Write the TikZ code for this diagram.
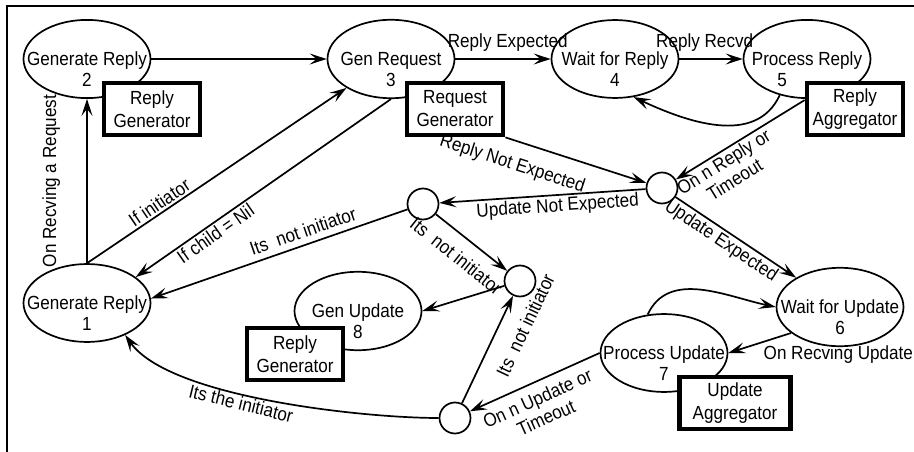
\documentclass[tikz,border=0pt]{standalone}
\usepackage{fontspec}
\setmainfont{Liberation Sans}[FakeStretch=0.9]
\usetikzlibrary{arrows.meta,shapes.geometric}

\begin{document}
\begin{tikzpicture}[
                state/.style={
                    ellipse,
                    draw,
                    line width=1.7pt,
                    minimum width=127pt,
                    minimum height=75pt,
                    inner sep=0pt,
                    align=center
                },
                junction/.style={
                    circle,
                    draw,
                    line width=1.7pt,
                    minimum size=31pt,
                    inner sep=0pt
                },
                agent/.style={
                    draw,
                    fill=white,
                    line width=4.8pt,
                    minimum width=96pt,
                    minimum height=52pt,
                    inner sep=0pt,
                    align=center,
                    font=\fontsize{19}{23}\selectfont
                },
                arr/.style={
                    -{Stealth[length=17pt,width=11pt,inset=7pt]},
                    line width=1.7pt
                },
                lbl/.style={
                    inner sep=2pt,
                    sloped
                },
                font=\fontsize{19}{21}\selectfont,
                x=1pt,
                y=1pt
            ]

        \newcommand{\statetext}[2]{%
            \vphantom{#2}\\\makebox[0pt]{#1}\\#2%
        }

        \useasboundingbox (0,0) rectangle (914,-452);

        % Frame
        \draw[line width=1.6pt] (7,-452) -- (7,-6) -- (914,-6);

        % States
        \node[state] (gen2) at (87,-59) {\statetext{Generate Reply}{2}};
        \node[state] (genreq) at (391,-59) {\statetext{Gen Request}{3}};
        \node[state] (waitrep) at (615,-59) {\statetext{Wait for Reply}{4}};
        \node[state] (procrep) at (807,-59)
            {\statetext{Process Reply}{\makebox[0pt][r]{5\hspace{20pt}}}};
        \node[state] (gen1) at (87,-303) {\statetext{Generate Reply}{1}};
        \node[state] (waitupd) at (840,-307) {\statetext{Wait for Update}{6}};
        \node[state] (procupd) at (664,-353) {\statetext{Process Update}{7}};
        \node[state] (genupd) at (358,-311) {\statetext{Gen Update}{8}};

        % Workers
        \node[agent] (replygen2) at (152,-109) {Reply\\Generator};
        \node[agent] (reqgen) at (455,-109) {Request\\Generator};
        \node[agent] (replyagg) at (855,-109) {Reply\\Aggregator};
        \node[agent] (replygen8) at (295,-354) {Reply\\Generator};
        \node[agent, minimum width=111pt] (updagg) at (735,-403) {Update\\Aggregator};

        % Junctions
        \node[junction] (jrep) at (662,-188) {};
        \node[junction] (jnot) at (423,-204) {};
        \node[junction] (jupd) at (520,-281) {};
        \node[junction] (jtime) at (455,-418) {};

        % Reply round
        \draw[arr] (gen2) -- (genreq);
        \draw[arr] (genreq) -- node[lbl,above=5pt,pos=0.55] {Reply Expected} (waitrep);
        \draw[arr] (waitrep) -- node[lbl,above=5pt,pos=0.4] {Reply Recvd} (procrep);
        \draw[arr] (procrep.-127) to[out=-115,in=-25] (waitrep.-64);
        \draw[arr] (replyagg.170) -- node[lbl,below,pos=0.67,align=center]
            {On n Reply or\\Timeout} (jrep);
        \draw[arr] (reqgen.south east) -- node[lbl,below=12pt,pos=0.1]
            {Reply Not Expected} (jrep);
        \draw[arr] (jrep) -- node[lbl,below,pos=0.43] {Update Not Expected} (jnot);
        \draw[arr] (jrep) -- node[lbl,below,pos=0.43] {Update Expected} (waitupd);

        % Update round
        \draw[arr] (procupd.113) to[out=65,in=168] (waitupd.west);
        \draw[arr] (waitupd.-152) -- node[pos=0.45,anchor=west,yshift=-13pt,inner sep=0pt]
            {On Recving Update} (procupd.east);
        \draw[arr] (procupd.west) -- node[lbl,below=6pt,pos=0.53,align=center]
            {On n Update or\\Timeout} (jtime);
        \draw[arr] (jtime) -- node[lbl,below=14pt,pos=0.82] {Its~ not initiator} (jupd);
        \draw[arr] (jnot) -- node[lbl,below=10pt,pos=0.46] {Its~ not initiator} (jupd);
        \draw[arr] (jupd) -- (genupd.east);
        \draw[arr] (jnot) -- node[lbl,above=4pt,pos=0.39] {Its~ not initiator} (gen1.4);
        \draw[arr] (jtime.west) to[out=180,in=-55,looseness=0.6]
            node[lbl,below,pos=0.57] {Its the initiator} (gen1.-40);

        % Back to the initiator
        \draw[arr] (gen1.north) -- node[lbl,allow upside down,above=24pt,pos=0.5]
            {On Recving a Request} (gen2.south);
        \draw[arr] (gen1.north) -- node[lbl,above,pos=0.3] {If initiator} (genreq.-147);
        \draw[arr] (genreq.south) -- node[lbl,below,pos=0.71] {If child = Nil} (gen1.28);

            \end{tikzpicture}
\end{document}
